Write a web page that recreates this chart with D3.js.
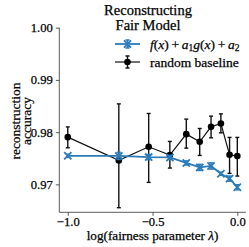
<!DOCTYPE html>
<html>
<head>
<meta charset="utf-8">
<script src="https://cdn.jsdelivr.net/npm/d3@7"></script>
<style>
  body { margin: 0; background: #fff; }
  text { font-family: "Liberation Serif", "Times New Roman", "DejaVu Serif", serif; fill: #000; stroke: #000; stroke-width: 0.25px; }
</style>
</head>
<body>
<div id="chart"></div>
<script>
// fairness parameter lambda, plotted as log10
var lambdas = [0.1, 0.2, 0.3, 0.4, 0.5, 0.6, 0.7, 0.8, 0.9, 1.0];
// reconstruction accuracy of f(x) + a1 g(x) + a2
var fitMean = [0.97547, 0.97545, 0.97522, 0.97516, 0.97410, 0.97325, 0.97352, 0.97203, 0.97110, 0.96945];
var fitErr = [0.0003, 0.0007, 0.0005, 0.0004, 0.0004, 0.0006, 0.0006, 0.0003, 0.0005, 0.0005];
// random baseline
var baseMean = [0.97904, 0.97459, 0.97719, 0.97560, 0.97962, 0.97815, 0.98101, 0.98166, 0.97566, 0.97541];
var baseLow = [0.97700, 0.96553, 0.97038, 0.97312, 0.97694, 0.97554, 0.97891, 0.97987, 0.97210, 0.97159];
var baseHigh = [0.98100, 0.98541, 0.98357, 0.97822, 0.98249, 0.98070, 0.98306, 0.98350, 0.97899, 0.97899];
var xTicks = [-1.0, -0.5, 0.0];
var yTicks = [0.97, 0.98, 0.99, 1.00];

var W = 249, H = 247;
var margin = { top: 27.7, right: 3.2, bottom: 34.7, left: 59.3 };
var blue = "#2b7bba";

var svg = d3.select("#chart").append("svg")
  .attr("width", W)
  .attr("height", H);

var x = d3.scaleLinear().domain([-1.05, 0.05]).range([margin.left, W - margin.right]);
var y = d3.scaleLinear().domain([0.96465, 1.0]).range([H - margin.bottom, margin.top]);

var fit = lambdas.map(function(l, i) {
  return { x: Math.log10(l), y: fitMean[i], lo: fitMean[i] - fitErr[i], hi: fitMean[i] + fitErr[i] };
});
var base = lambdas.map(function(l, i) {
  return { x: Math.log10(l), y: baseMean[i], lo: baseLow[i], hi: baseHigh[i] };
});

// axes
var xAxis = d3.axisBottom(x).tickValues(xTicks).tickSize(3.5).tickPadding(1)
  .tickFormat(function(d) { return d3.format(".1f")(d).replace("-", "\u2212"); });
var yAxis = d3.axisLeft(y).tickValues(yTicks).tickSize(3.5).tickPadding(3)
  .tickFormat(d3.format(".2f"));

var gx = svg.append("g")
  .attr("transform", "translate(0," + (H - margin.bottom) + ")")
  .call(xAxis);
var gy = svg.append("g")
  .attr("transform", "translate(" + margin.left + ",0)")
  .call(yAxis);
[gx, gy].forEach(function(g) {
  g.attr("font-family", null);
  g.select(".domain").attr("stroke", "#333").attr("stroke-width", 0.8);
  g.selectAll(".tick line").attr("stroke", "#333").attr("stroke-width", 0.8);
  g.selectAll(".tick text").attr("font-size", 12.6).attr("fill", "#000");
});
gx.select(".domain").attr("d", "M" + margin.left + ",0H" + (W - margin.right));
gy.select(".domain").attr("d", "M0," + (H - margin.bottom) + "V" + margin.top);

function drawSeries(data, color, lw) {
  var g = svg.append("g");
  g.append("path")
    .datum(data)
    .attr("fill", "none")
    .attr("stroke", color)
    .attr("stroke-width", lw)
    .attr("d", d3.line().x(function(d) { return x(d.x); }).y(function(d) { return y(d.y); }));
  var eb = g.selectAll(".eb").data(data).enter().append("g");
  eb.append("line")
    .attr("x1", function(d) { return x(d.x); })
    .attr("x2", function(d) { return x(d.x); })
    .attr("y1", function(d) { return y(d.lo); })
    .attr("y2", function(d) { return y(d.hi); })
    .attr("stroke", color).attr("stroke-width", 1.4);
  ["lo", "hi"].forEach(function(k) {
    eb.append("line")
      .attr("x1", function(d) { return x(d.x) - 2; })
      .attr("x2", function(d) { return x(d.x) + 2; })
      .attr("y1", function(d) { return y(d[k]); })
      .attr("y2", function(d) { return y(d[k]); })
      .attr("stroke", color).attr("stroke-width", 1.4);
  });
  return g;
}

// random baseline
var gb = drawSeries(base, "#111", 1.2);
gb.selectAll("circle").data(base).enter().append("circle")
  .attr("cx", function(d) { return x(d.x); })
  .attr("cy", function(d) { return y(d.y); })
  .attr("r", 3.3)
  .attr("fill", "#000");

// f(x) + a1 g(x) + a2
var gf = drawSeries(fit, blue, 1.8);
gf.selectAll(".mk").data(fit).enter().append("path")
  .attr("d", function(d) {
    var cx = x(d.x), cy = y(d.y), s = 3.6;
    return "M" + (cx - s) + "," + (cy - s) + "L" + (cx + s) + "," + (cy + s) +
      "M" + (cx - s) + "," + (cy + s) + "L" + (cx + s) + "," + (cy - s);
  })
  .attr("stroke", blue)
  .attr("stroke-width", 1.8);

// title
svg.append("text").attr("x", 148).attr("y", 14.5).attr("text-anchor", "middle")
  .attr("font-size", 14.5).text("Reconstructing");
svg.append("text").attr("x", 148).attr("y", 29.5).attr("text-anchor", "middle")
  .attr("font-size", 14.5).text("Fair Model");

// axis labels
svg.append("text").attr("x", 152.5).attr("y", 240).attr("text-anchor", "middle")
  .attr("font-size", 13.2)
  .call(function(t) {
    t.append("tspan").text("log(fairness parameter ");
    t.append("tspan").attr("font-style", "italic").text("\u03bb");
    t.append("tspan").text(")");
  });
var yl = svg.append("g").attr("transform", "translate(20,121) rotate(-90)");
yl.append("text").attr("x", 0).attr("y", 0).attr("text-anchor", "middle")
  .attr("font-size", 13.5).text("reconstruction");
yl.append("text").attr("x", 0).attr("y", 10.5).attr("text-anchor", "middle")
  .attr("font-size", 13.5).text("accuracy");

// legend
var leg = svg.append("g");
var l1y = 44, l2y = 62, lx0 = 115, lx1 = 140;
leg.append("line").attr("x1", lx0).attr("x2", lx1).attr("y1", l1y).attr("y2", l1y)
  .attr("stroke", blue).attr("stroke-width", 1.8);
var mx = (lx0 + lx1) / 2;
leg.append("path")
  .attr("d", "M" + (mx - 3.6) + "," + (l1y - 3.6) + "L" + (mx + 3.6) + "," + (l1y + 3.6) +
    "M" + (mx - 3.6) + "," + (l1y + 3.6) + "L" + (mx + 3.6) + "," + (l1y - 3.6) +
    "M" + mx + "," + (l1y - 4) + "V" + (l1y + 4) +
    "M" + (mx - 2) + "," + (l1y - 4) + "H" + (mx + 2) +
    "M" + (mx - 2) + "," + (l1y + 4) + "H" + (mx + 2))
  .attr("stroke", blue).attr("stroke-width", 1.6).attr("fill", "none");
leg.append("line").attr("x1", lx0).attr("x2", lx1).attr("y1", l2y).attr("y2", l2y)
  .attr("stroke", "#111").attr("stroke-width", 1.2);
leg.append("path")
  .attr("d", "M" + mx + "," + (l2y - 6) + "V" + (l2y + 6) +
    "M" + (mx - 2) + "," + (l2y - 6) + "H" + (mx + 2) +
    "M" + (mx - 2) + "," + (l2y + 6) + "H" + (mx + 2))
  .attr("stroke", "#111").attr("stroke-width", 1.4);
leg.append("circle").attr("cx", mx).attr("cy", l2y).attr("r", 3.3).attr("fill", "#000");

var t1 = leg.append("text").attr("x", 150).attr("y", l1y + 4.5).attr("font-size", 13.5);
t1.append("tspan").attr("font-style", "italic").text("f");
t1.append("tspan").text("(");
t1.append("tspan").attr("font-style", "italic").text("x");
t1.append("tspan").text(")\u2009+\u2009");
t1.append("tspan").attr("font-style", "italic").text("a");
t1.append("tspan").attr("font-size", 9.5).attr("dy", 2.5).text("1");
t1.append("tspan").attr("font-style", "italic").attr("dy", -2.5).text("g");
t1.append("tspan").text("(");
t1.append("tspan").attr("font-style", "italic").text("x");
t1.append("tspan").text(")\u2009+\u2009");
t1.append("tspan").attr("font-style", "italic").text("a");
t1.append("tspan").attr("font-size", 9.5).attr("dy", 2.5).text("2");
leg.append("text").attr("x", 150).attr("y", l2y + 4.5).attr("font-size", 13.5)
  .text("random baseline");
</script>
</body>
</html>
